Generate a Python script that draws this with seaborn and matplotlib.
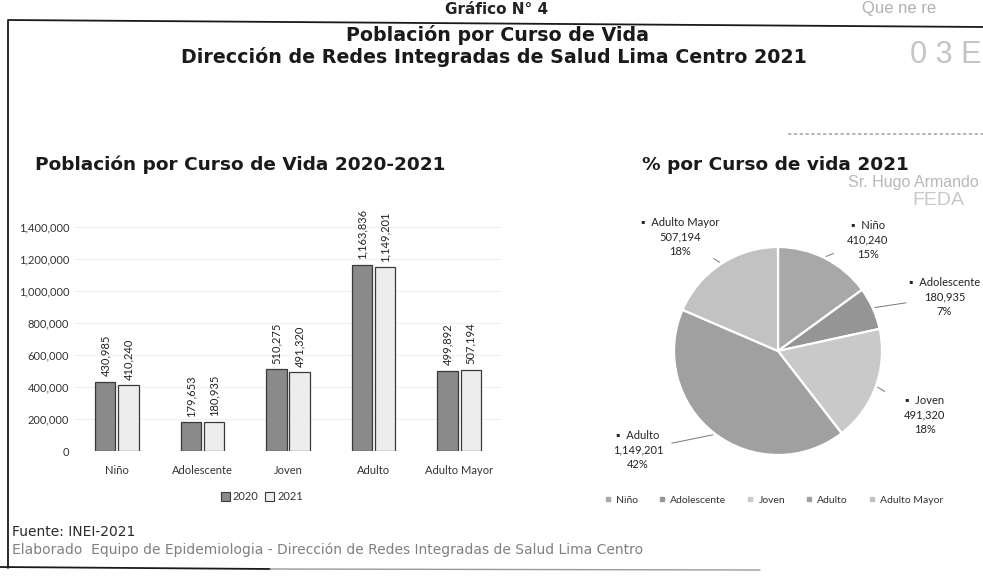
import matplotlib
matplotlib.use("Agg")
import matplotlib.pyplot as plt
import seaborn as sns
import pandas as pd
import numpy as np
from matplotlib.lines import Line2D
from matplotlib.patches import Patch

# ---------------- data ----------------
categories = ["Niño", "Adolescente", "Joven", "Adulto", "Adulto Mayor"]
years = ["2020", "2021"]
pop_2020 = [430985, 179653, 510275, 1163836, 499892]
pop_2021 = [410240, 180935, 491320, 1149201, 507194]
y_ticks = [0, 200000, 400000, 600000, 800000, 1000000, 1200000, 1400000]
pie_pct_labels = ["15%", "7%", "18%", "42%", "18%"]

# ---------------- style ----------------
sns.set_theme(style="white")
plt.rcParams['font.family'] = ['Lato', 'DejaVu Sans']
TITLE_FONT = ['DejaVu Sans']
NOTE_FONT = ['DejaVu Sans']

W, H = 983, 576
fig = plt.figure(figsize=(W / 100, H / 100), dpi=100)
fig.patch.set_facecolor("white")


def px(x0, y0, x1, y1):
    return [x0 / W, 1 - y1 / H, (x1 - x0) / W, (y1 - y0) / H]


def fx(x):
    return x / W


def fy(y):
    return 1 - y / H


# ---------------- frame & header ----------------
fig.add_artist(Line2D([fx(8), fx(8)], [fy(21), fy(568)], color="#1a1a1a", lw=1.3))
fig.add_artist(Line2D([fx(8), fx(983)], [fy(20), fy(27)], color="#1a1a1a", lw=1.3))
fig.add_artist(Line2D([fx(0), fx(270)], [fy(567), fy(569)], color="#1a1a1a", lw=1.3))
fig.add_artist(Line2D([fx(270), fx(760)], [fy(569), fy(570)], color="#9a9a9a", lw=1.0))

fig.text(fx(497), fy(9), "Gráfico N° 4", ha="center", va="center",
         fontsize=11, fontweight="bold", family=TITLE_FONT, color="#222")
fig.text(fx(497), fy(35), "Población por Curso de Vida", ha="center", va="center",
         fontsize=13.7, fontweight="bold", family=TITLE_FONT, color="#1a1a1a")
fig.text(fx(494), fy(57), "Dirección de Redes Integradas de Salud Lima Centro 2021",
         ha="center", va="center", fontsize=13.7, fontweight="bold",
         family=TITLE_FONT, color="#1a1a1a")

# stamp remnants (faint)
fig.text(fx(862), fy(8), "Que ne re", ha="left", va="center", fontsize=12,
         family=['Liberation Sans'], color="#b0b0b0")
fig.text(fx(910), fy(55), "0 3 E", ha="left", va="center", fontsize=22,
         family=['Liberation Sans'], color="#c4c4c4")
fig.add_artist(Line2D([fx(788), fx(983)], [fy(134), fy(134)], color="#aaaaaa",
                      lw=1.2, ls=(0, (2, 1.5))))
fig.text(fx(848), fy(183), "Sr. Hugo Armando", ha="left", va="center", fontsize=11.5,
         family=['Liberation Sans'], color="#b8b8b8")
fig.text(fx(912), fy(201), "FEDA", ha="left", va="center", fontsize=14,
         family=['Liberation Sans'], color="#c8c8c8")

# ---------------- bar chart ----------------
fig.text(fx(35), fy(165), "Población por Curso de Vida 2020-2021", ha="left",
         va="center", fontsize=13.3, fontweight="bold", family=TITLE_FONT, color="#1a1a1a")

ax = fig.add_axes(px(74, 227, 502, 451))
df = pd.DataFrame({
    "Curso": categories * 2,
    "Año": [years[0]] * len(categories) + [years[1]] * len(categories),
    "Poblacion": pop_2020 + pop_2021,
})
bar_colors = ["#8a8a8a", "#ededed"]
sns.barplot(data=df, x="Curso", y="Poblacion", hue="Año", palette=bar_colors,
            width=0.54, gap=0.12, ax=ax, legend=False, edgecolor="#3a3a3a",
            linewidth=0.9, saturation=1)
ax.set_ylim(0, y_ticks[-1])
ax.set_yticks(y_ticks)
ax.set_yticklabels([f"{v:,}" for v in y_ticks])
ax.set_xlabel("")
ax.set_ylabel("")
ax.grid(axis="y", color="#f0f0f0", lw=0.8)
ax.set_axisbelow(True)
for s in ax.spines.values():
    s.set_visible(False)
ax.tick_params(axis="both", labelsize=8, colors="#333333", length=0)
ax.tick_params(axis="x", pad=10)
for cont in ax.containers:
    ax.bar_label(cont, fmt="{:,.0f}", rotation=90, padding=4, fontsize=8,
                 color="#222222", clip_on=False)

bar_handles = [Patch(facecolor=c, edgecolor="#3a3a3a", lw=0.8) for c in bar_colors]
fig.legend(bar_handles, years, loc="center", bbox_to_anchor=(fx(262), fy(497)),
           ncol=2, frameon=False, fontsize=8, handlelength=0.8, handleheight=0.8,
           handletextpad=0.3, columnspacing=0.6, labelcolor="#333333")

# ---------------- pie chart ----------------
fig.text(fx(642), fy(165), "% por Curso de vida 2021", ha="left", va="center",
         fontsize=13.3, fontweight="bold", family=TITLE_FONT, color="#1a1a1a")

R = 104.0
cx, cy = 778, 351
hw, hh = 188, 140
pax = fig.add_axes(px(cx - hw, cy - hh, cx + hw, cy + hh))
pie_colors = ["#a8a8a8", "#959595", "#c9c9c9", "#a0a0a0", "#c2c2c2"]
wedges, _ = pax.pie(pop_2021, radius=1, startangle=90, counterclock=False,
                    colors=pie_colors,
                    wedgeprops=dict(edgecolor="white", linewidth=1.6))
pax.set_aspect("auto")
pax.set_xlim(-hw / R, hw / R)
pax.set_ylim(-hh / R, hh / R)
pax.axis("off")

# label placement (in pie-radius units) and leader-line length fraction
label_pos = [(0.865, 1.067), (1.60, 0.519), (1.413, -0.615), (-1.346, -0.952), (-0.942, 1.096)]
leader_frac = [0.18, 0.45, 0.15, 0.55, 0.15]
for w, name, val, pct, (lx, ly), f in zip(wedges, categories, pop_2021,
                                         pie_pct_labels, label_pos, leader_frac):
    ang = np.deg2rad((w.theta1 + w.theta2) / 2)
    ex, ey = 1.02 * np.cos(ang), 1.02 * np.sin(ang)
    pax.text(lx, ly, f"▪  {name}\n{val:,}\n{pct}", ha="center", va="center",
             fontsize=8, color="#222222", linespacing=1.4, clip_on=False)
    pax.plot([ex, ex + f * (lx - ex)], [ey, ey + f * (ly - ey)],
             color="#777777", lw=0.7, clip_on=False)

pie_handles = [Line2D([], [], marker="s", ls="", markersize=3.5, color=c) for c in pie_colors]
fig.legend(pie_handles, categories, loc="center", bbox_to_anchor=(fx(774), fy(500)),
           ncol=5, frameon=False, fontsize=7.5, handlelength=0.6, handletextpad=0.5,
           columnspacing=2.0, labelcolor="#333333")

# ---------------- footer ----------------
fig.text(fx(12), fy(532), "Fuente: INEI-2021", ha="left", va="center",
         fontsize=10, family=NOTE_FONT, color="#2a2a2a")
fig.text(fx(12), fy(550),
         "Elaborado  Equipo de Epidemiologia - Dirección de Redes Integradas de Salud Lima Centro",
         ha="left", va="center", fontsize=10, family=NOTE_FONT, color="#808080")

fig.savefig("out.png", dpi=100, facecolor="white")
